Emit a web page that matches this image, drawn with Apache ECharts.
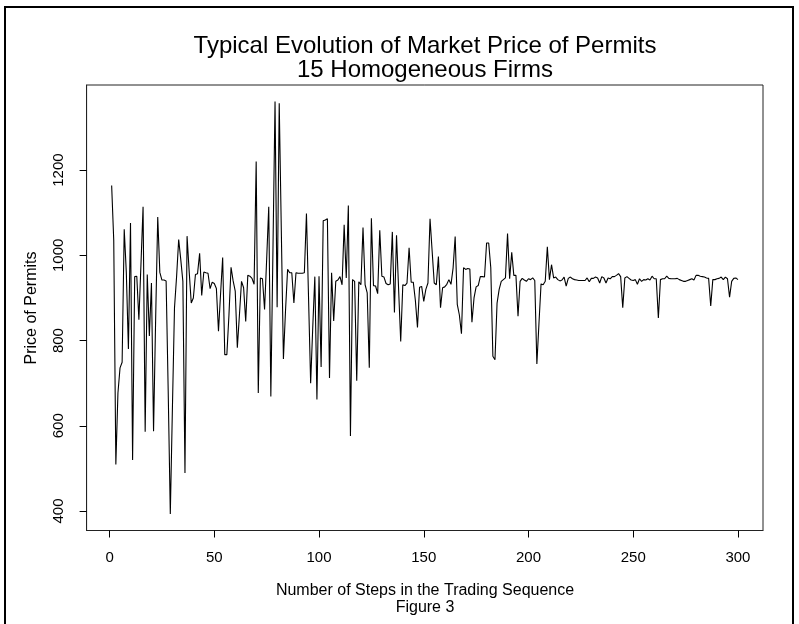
<!DOCTYPE html>
<html>
<head>
<meta charset="utf-8">
<script src="https://cdn.jsdelivr.net/npm/echarts@6/dist/echarts.min.js"></script>
<style>
html,body{margin:0;padding:0;background:#fff;}
#chart{width:799px;height:624px;}
</style>
</head>
<body>
<div id="chart"></div>
<script>
// Price of permits at each step of the trading sequence (steps 1..300)
const prices = [
  1164, 1035, 509, 677, 736, 749, 1061, 960, 780, 1076,
  520, 950, 951, 849, 980, 1114, 586, 955, 811, 935,
  587, 850, 1090, 960, 942, 942, 940, 680, 393, 640,
  877, 950, 1037, 990, 939, 489, 1045, 963, 888, 900,
  955, 957, 1005, 906, 961, 959, 958, 922, 937, 934,
  922, 822, 910, 995, 767, 767, 860, 972, 940, 916,
  783, 860, 939, 924, 845, 953, 951, 946, 932, 1220,
  677, 947, 945, 873, 990, 1114, 669, 1010, 1361, 878,
  1357, 1057, 757, 870, 967, 959, 959, 888, 959, 958,
  958, 958, 959, 1098, 900, 700, 830, 950, 662, 951,
  738, 1081, 1083, 1086, 712, 959, 846, 939, 942, 950,
  931, 1072, 947, 1117, 576, 943, 939, 706, 938, 931,
  1065, 931, 912, 736, 1087, 929, 928, 910, 1059, 951,
  949, 934, 931, 933, 1055, 866, 1047, 920, 798, 931,
  929, 935, 1018, 937, 937, 894, 831, 925, 927, 892,
  920, 935, 1086, 1010, 935, 931, 997, 877, 924, 926,
  932, 943, 932, 970, 1044, 885, 860, 816, 971, 967,
  969, 968, 843, 900, 926, 929, 950, 950, 949, 1029,
  1029, 971, 763, 755, 888, 920, 939, 943, 947, 1051,
  945, 1007, 953, 953, 857, 939, 946, 942, 939, 945,
  943, 947, 941, 745, 840, 933, 931, 939, 1020, 943,
  978, 947, 949, 943, 940, 942, 949, 928, 946, 949,
  945, 943, 942, 941, 941, 941, 941, 947, 938, 946,
  946, 949, 947, 935, 950, 947, 935, 947, 945, 950,
  950, 953, 957, 950, 877, 947, 950, 946, 942, 941,
  943, 932, 945, 939, 943, 942, 945, 942, 951, 945,
  945, 853, 943, 945, 945, 951, 946, 945, 945, 945,
  946, 943, 941, 939, 939, 941, 943, 945, 942, 953,
  953, 951, 950, 949, 947, 946, 881, 943, 943, 945,
  946, 949, 943, 949, 945, 902, 939, 946, 947, 943
];
const steps = prices.map((_, i) => i + 1);
const xTicks = [0, 50, 100, 150, 200, 250, 300];
const yTicks = [400, 600, 800, 1000, 1200];
const titleLines = ['Typical Evolution of Market Price of Permits', '15 Homogeneous Firms'];
const xAxisTitle = 'Number of Steps in the Trading Sequence';
const figureLabel = 'Figure 3';
const yAxisTitle = 'Price of Permits';

const FONT = '"Liberation Sans", Arial, Helvetica, sans-serif';
const chart = echarts.init(document.getElementById('chart'), null, {renderer: 'canvas'});

const option = {
  animation: false,
  backgroundColor: '#ffffff',
  grid: {
    left: 86.6, right: 36, top: 85, bottom: 93.5,
    show: true, borderColor: '#222', borderWidth: 1, backgroundColor: 'transparent'
  },
  xAxis: {
    type: 'value',
    min: -10.96, max: 311.96,
    axisLine: {show: true, onZero: false, lineStyle: {color: '#222', width: 1}},
    splitLine: {show: false},
    axisTick: {show: true, inside: false, length: 7, customValues: xTicks, lineStyle: {color: '#000', width: 1}},
    axisLabel: {show: true, customValues: xTicks, margin: 20, color: '#000', fontSize: 15, fontFamily: FONT,
      formatter: v => String(v)}
  },
  yAxis: {
    type: 'value',
    min: 354.3, max: 1399.7,
    axisLine: {show: true, onZero: false, lineStyle: {color: '#222', width: 1}},
    splitLine: {show: false},
    axisTick: {show: true, inside: false, length: 7, customValues: yTicks, lineStyle: {color: '#000', width: 1}},
    axisLabel: {show: true, customValues: yTicks, rotate: 90, margin: 20, color: '#000', fontSize: 15, fontFamily: FONT,
      formatter: v => String(v)}
  },
  series: [{
    type: 'line',
    data: steps.map((s, i) => [s, prices[i]]),
    symbol: 'none',
    lineStyle: {color: '#000', width: 1.1},
    z: 3
  }],
  graphic: [
    {type: 'rect', shape: {x: 5, y: 7, width: 788, height: 640}, style: {fill: 'none', stroke: '#000', lineWidth: 2}, silent: true},
    {type: 'text', x: 425, y: 46, style: {text: titleLines[0], fill: '#000', font: '24px ' + FONT, textAlign: 'center', textVerticalAlign: 'middle'}},
    {type: 'text', x: 425, y: 70, style: {text: titleLines[1], fill: '#000', font: '24px ' + FONT, textAlign: 'center', textVerticalAlign: 'middle'}},
    {type: 'text', x: 425, y: 591, style: {text: xAxisTitle, fill: '#000', font: '16px ' + FONT, textAlign: 'center', textVerticalAlign: 'middle'}},
    {type: 'text', x: 425, y: 608, style: {text: figureLabel, fill: '#000', font: '16px ' + FONT, textAlign: 'center', textVerticalAlign: 'middle'}},
    {type: 'text', x: 32, y: 308, rotation: Math.PI / 2, style: {text: yAxisTitle, fill: '#000', font: '16px ' + FONT, textAlign: 'center', textVerticalAlign: 'middle'}}
  ]
};
chart.setOption(option);
</script>
</body>
</html>
